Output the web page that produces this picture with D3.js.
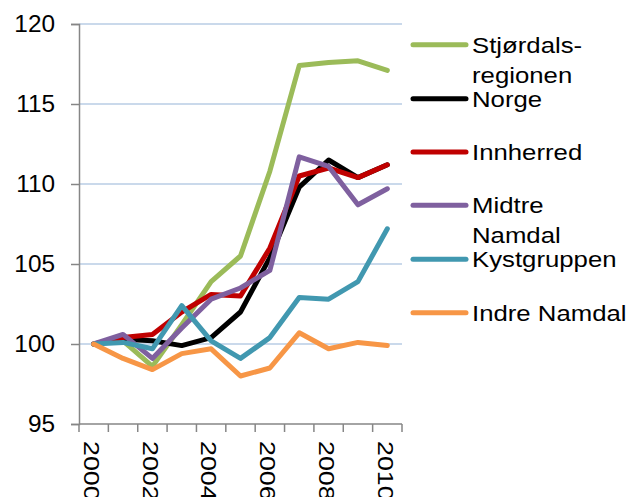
<!DOCTYPE html>
<html><head><meta charset="utf-8">
<script src="https://cdn.jsdelivr.net/npm/d3@7"></script>
<style>body{margin:0;background:#fff}svg{display:block;font-family:"Liberation Sans",Arial,sans-serif}</style>
</head><body><svg id="c" width="632" height="497"></svg>
<script>
const years = ["2000","2001","2002","2003","2004","2005","2006","2007","2008","2009","2010"];
const yTicks = [95,100,105,110,115,120];
const xTickLabels = ["2000","2002","2004","2006","2008","2010"];
const seriesNames = ["Stjørdals-\nregionen","Norge","Innherred","Midtre\nNamdal","Kystgruppen","Indre Namdal"];
const seriesColors = ["#9BBB59","#000000","#C00000","#7F609F","#4198B0","#F79646"];
const stjordal = [100,100.2,98.6,101.2,103.9,105.5,110.8,117.4,117.6,117.7,117.1];
const norge = [100,100.3,100.2,99.9,100.4,102.0,105.4,109.8,111.5,110.4,111.2];
const innherred = [100,100.4,100.6,102.0,103.1,103.0,106.0,110.5,111.0,110.4,111.2];
const midtreNamdal = [100,100.6,99.1,101.0,102.8,103.5,104.6,111.7,111.1,108.7,109.7];
const kystgruppen = [100,100.1,99.7,102.4,100.2,99.1,100.4,102.9,102.8,103.9,107.2];
const indreNamdal = [100,99.1,98.4,99.4,99.7,98.0,98.5,100.7,99.7,100.1,99.9];
const seriesValues = [stjordal,norge,innherred,midtreNamdal,kystgruppen,indreNamdal];

const svg = d3.select("#c");
const L=79, R=402, T=24, B=424;
const x = d3.scaleBand().domain(years).range([L,R]);
const y = d3.scaleLinear().domain([95,120]).range([B,T]);
const axisColor="#868686";

// gridlines
svg.append("g").selectAll("line").data(yTicks.filter(d=>d>95)).join("line")
  .attr("x1",L).attr("x2",R).attr("y1",d=>y(d)).attr("y2",d=>y(d))
  .attr("stroke","#B9CDE5").attr("stroke-width",1.3);

// y axis
const ya = svg.append("g").attr("transform",`translate(${L},0)`)
  .call(d3.axisLeft(y).tickValues(yTicks).tickSize(8).tickPadding(16).tickFormat(d3.format("d")));
ya.select(".domain").attr("stroke",axisColor).attr("stroke-width",1.5);
ya.selectAll(".tick line").attr("stroke",axisColor).attr("stroke-width",1.5);
ya.selectAll("text").attr("font-size",23).attr("fill","#000").attr("font-family","Liberation Sans, Arial, sans-serif")
  .attr("transform","translate(-24,0) scale(1.06,1) translate(24,0)");

// x axis
const xa = svg.append("g").attr("transform",`translate(0,${B})`);
xa.append("line").attr("x1",L).attr("x2",R).attr("stroke",axisColor).attr("stroke-width",1.5);
const bounds = years.map(d=>x(d)).concat([R]);
xa.selectAll("line.t").data(bounds).join("line").attr("class","t")
  .attr("x1",d=>d).attr("x2",d=>d).attr("y1",0).attr("y2",8)
  .attr("stroke",axisColor).attr("stroke-width",1.5);
xa.selectAll("text").data(xTickLabels).join("text")
  .attr("transform",d=>`translate(${x(d)+x.bandwidth()/2-2},17) rotate(90) scale(1.22,1)`)
  .attr("dy","0.35em").attr("font-size",22).attr("fill","#000").text(d=>d);

// lines
const line = d3.line().x((d,i)=>x(years[i])+x.bandwidth()/2).y(d=>y(d));
svg.append("g").selectAll("path").data(seriesValues).join("path")
  .attr("d",d=>line(d)).attr("fill","none")
  .attr("stroke",(d,i)=>seriesColors[i]).attr("stroke-width",5)
  .attr("stroke-linejoin","round").attr("stroke-linecap","round");

// legend
const legY = [44.7,98.7,152,205.3,259.3,312.7];
const lg = svg.append("g").selectAll("g").data(seriesNames).join("g")
  .attr("transform",(d,i)=>`translate(0,${legY[i]})`);
lg.append("line").attr("x1",413).attr("x2",466).attr("y1",0).attr("y2",0)
  .attr("stroke",(d,i)=>seriesColors[i]).attr("stroke-width",5).attr("stroke-linecap","round");
lg.append("text").attr("font-size",23).attr("fill","#000")
  .attr("transform","translate(472,0) scale(1.12,1)")
  .each(function(d){
    const t=d3.select(this);
    d.split("\n").forEach((s,k)=>t.append("tspan").attr("x",0).attr("y",8+k*30).text(s));
  });
</script></body></html>
